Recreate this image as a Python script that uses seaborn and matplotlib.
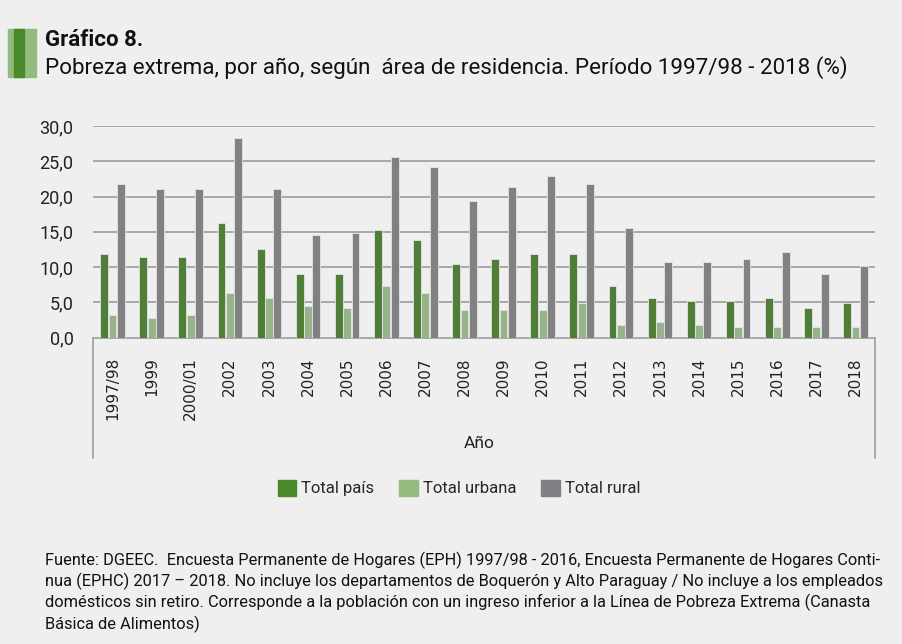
import numpy as np
import pandas as pd
import matplotlib.pyplot as plt
import seaborn as sns
from matplotlib.patches import Rectangle

# Datos
anios = ["1997/98", "1999", "2000/01", "2002", "2003", "2004", "2005", "2006", "2007",
         "2008", "2009", "2010", "2011", "2012", "2013", "2014", "2015", "2016", "2017", "2018"]
total_pais = [11.8, 11.5, 11.5, 16.2, 12.5, 9.0, 9.0, 15.3, 13.8, 10.4,
              11.1, 11.8, 11.8, 7.3, 5.6, 5.2, 5.2, 5.6, 4.2, 4.9]
total_urbana = [3.2, 2.8, 3.2, 6.3, 5.6, 4.5, 4.2, 7.3, 6.3, 3.9,
                3.9, 3.9, 4.9, 1.8, 2.2, 1.8, 1.5, 1.5, 1.5, 1.5]
total_rural = [21.8, 21.1, 21.1, 28.3, 21.1, 14.5, 14.9, 25.6, 24.2, 19.4,
               21.4, 22.9, 21.8, 15.6, 10.7, 10.7, 11.1, 12.1, 9.0, 10.1]
series = ["Total país", "Total urbana", "Total rural"]
colores = ["#4a8a2b", "#93bb80", "#808184"]

df = pd.DataFrame({"Año": anios, "Total país": total_pais,
                   "Total urbana": total_urbana, "Total rural": total_rural})
df = df.melt(id_vars="Año", var_name="serie", value_name="valor")

sns.set_style("white")
plt.rcParams["font.family"] = ["Roboto", "DejaVu Sans"]
fondo = "#efefef"

fig = plt.figure(figsize=(9.03, 6.44), dpi=100, facecolor=fondo)
W, H = 903, 644
ax = fig.add_axes([93 / W, 1 - 337.7 / H, (875 - 93) / W, (337.7 - 126) / H])
ax.set_facecolor(fondo)

sns.barplot(data=df, x="Año", y="valor", hue="serie", hue_order=series,
            palette=colores, width=0.64, gap=0.06, edgecolor="#e4e4e4",
            linewidth=0.6, ax=ax, legend=False, zorder=3)

ax.set_ylim(0, 30)
ax.set_yticks(np.arange(0, 31, 5))
ax.set_yticklabels([f"{v:.1f}".replace(".", ",") for v in np.arange(0, 31, 5)],
                   fontsize=13, color="#222222")
ax.yaxis.grid(True, color="#a8a8a8", linewidth=1.4, zorder=0)
ax.tick_params(axis="y", length=0, pad=14)
ax.tick_params(axis="x", length=0, pad=14)
ax.set_xticks(range(len(anios)))
ax.set_xticklabels(anios, rotation=90, fontsize=11, family="DejaVu Sans",
                   color="#222222", va="top")
ax.set_xlim(-0.5, len(anios) - 0.5)
for s in ["top", "right", "left"]:
    ax.spines[s].set_visible(False)
ax.spines["bottom"].set_color("#a8a8a8")
ax.spines["bottom"].set_linewidth(1.4)
ax.set_xlabel("")
ax.set_ylabel("")

# marco de la zona de categorías
for xa in [0, 1]:
    ax.plot([xa, xa], [0, -120 / 211.7], transform=ax.transAxes, clip_on=False,
            color="#a8a8a8", linewidth=1.4)
fig.text(479 / W, 1 - 443 / H, "Año", ha="center", va="center", fontsize=12.5,
         color="#222222")

# leyenda
handles = [Rectangle((0, 0), 1, 1, color=c) for c in colores]
fig.legend(handles, series, loc="center", bbox_to_anchor=(459 / W, 1 - 488 / H),
           ncol=3, frameon=False, fontsize=12, handlelength=1.1, handleheight=1.1,
           handletextpad=0.3, columnspacing=1.5)

# marca verde del título
fig.patches.append(Rectangle((8 / W, 1 - 77 / H), 28 / W, 48 / H,
                             transform=fig.transFigure, color="#93bb80"))
fig.patches.append(Rectangle((14 / W, 1 - 77 / H), 10 / W, 48 / H,
                             transform=fig.transFigure, color="#4a8a2b"))

fig.text(45 / W, 1 - 40 / H, "Gráfico 8.", fontsize=16, fontweight="bold",
         va="center", color="#111111")
fig.text(45 / W, 1 - 68 / H,
         "Pobreza extrema, por año, según  área de residencia. Período 1997/98 - 2018 (%)",
         fontsize=16.1, va="center", color="#111111")

nota = ["Fuente: DGEEC.  Encuesta Permanente de Hogares (EPH) 1997/98 - 2016, Encuesta Permanente de Hogares Conti-",
        "nua (EPHC) 2017 – 2018. No incluye los departamentos de Boquerón y Alto Paraguay / No incluye a los empleados",
        "domésticos sin retiro. Corresponde a la población con un ingreso inferior a la Línea de Pobreza Extrema (Canasta",
        "Básica de Alimentos)"]
for i, linea in enumerate(nota):
    fig.text(45 / W, 1 - (560 + 21.3 * i) / H, linea, fontsize=11.8, va="center",
             color="#111111")

fig.savefig("out.png", dpi=100, facecolor=fondo)
